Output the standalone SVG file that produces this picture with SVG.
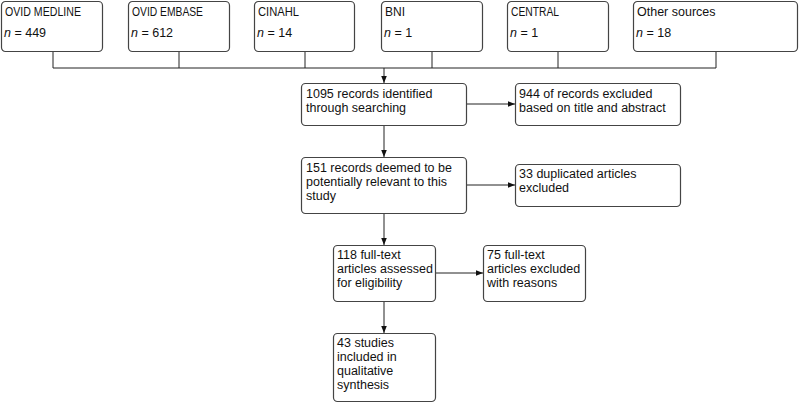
<svg xmlns="http://www.w3.org/2000/svg" width="800" height="403" viewBox="0 0 800 403">
<style>
.box{fill:#fff;stroke:#444;stroke-width:1.2}
.t{font-family:"Liberation Sans",Arial,sans-serif;font-size:12.5px;fill:#111}
.c{fill:none;stroke:#222;stroke-width:1}
</style>
<defs>
<marker id="ah" viewBox="0 0 10 10" refX="10" refY="5" markerWidth="7" markerHeight="7" orient="auto" markerUnits="userSpaceOnUse">
<path d="M0,1 L10,5 L0,9 z" fill="#111"/>
</marker>
</defs>
<rect width="800" height="403" fill="#fff"/>
<g id="connectors">
<path class="c" d="M53,52 V68 M179,52 V68 M305,52 V68 M432,52 V68 M558,52 V68 M716,52 V68 M53,68 H716"/>
<path class="c" d="M384,68 V83" marker-end="url(#ah)"/>
<path class="c" d="M466,104 H515" marker-end="url(#ah)"/>
<path class="c" d="M384,125 V157" marker-end="url(#ah)"/>
<path class="c" d="M466,185 H515" marker-end="url(#ah)"/>
<path class="c" d="M384,213 V245" marker-end="url(#ah)"/>
<path class="c" d="M435,273 H483" marker-end="url(#ah)"/>
<path class="c" d="M384,301 V333" marker-end="url(#ah)"/>
</g>
<g id="medline"><rect class="box" x="1.5" y="1.5" width="101" height="50" rx="4"/><text class="t" x="5" y="16" textLength="76" lengthAdjust="spacingAndGlyphs">OVID MEDLINE</text><text class="t" x="4" y="37"><tspan font-style="italic">n</tspan> = 449</text></g>
<g id="embase"><rect class="box" x="128.5" y="1.5" width="101" height="50" rx="4"/><text class="t" x="132" y="16" textLength="71" lengthAdjust="spacingAndGlyphs">OVID EMBASE</text><text class="t" x="131" y="37"><tspan font-style="italic">n</tspan> = 612</text></g>
<g id="cinahl"><rect class="box" x="254.5" y="1.5" width="100" height="50" rx="4"/><text class="t" x="258" y="16" textLength="41" lengthAdjust="spacingAndGlyphs">CINAHL</text><text class="t" x="257" y="37"><tspan font-style="italic">n</tspan> = 14</text></g>
<g id="bni"><rect class="box" x="381.5" y="1.5" width="101" height="50" rx="4"/><text class="t" x="385" y="16" textLength="20" lengthAdjust="spacingAndGlyphs">BNI</text><text class="t" x="384" y="37"><tspan font-style="italic">n</tspan> = 1</text></g>
<g id="central"><rect class="box" x="507.5" y="1.5" width="101" height="50" rx="4"/><text class="t" x="511" y="16" textLength="48" lengthAdjust="spacingAndGlyphs">CENTRAL</text><text class="t" x="510" y="37"><tspan font-style="italic">n</tspan> = 1</text></g>
<g id="other"><rect class="box" x="633.5" y="1.5" width="164" height="50" rx="4"/><text class="t" x="637" y="16">Other sources</text><text class="t" x="636" y="37"><tspan font-style="italic">n</tspan> = 18</text></g>
<g id="identified"><rect class="box" x="301.5" y="83.5" width="165" height="42" rx="4"/><text class="t" x="306" y="98">1095 records identified</text><text class="t" x="306" y="112">through searching</text></g>
<g id="excl944"><rect class="box" x="515.5" y="83.5" width="165" height="42" rx="4"/><text class="t" x="519" y="98">944 of records excluded</text><text class="t" x="519" y="112">based on title and abstract</text></g>
<g id="relevant"><rect class="box" x="301.5" y="157.5" width="165" height="56" rx="4"/><text class="t" x="306" y="172">151 records deemed to be</text><text class="t" x="306" y="186">potentially relevant to this</text><text class="t" x="306" y="200">study</text></g>
<g id="dup"><rect class="box" x="515.5" y="164.5" width="165" height="42" rx="4"/><text class="t" x="519" y="178">33 duplicated articles</text><text class="t" x="519" y="192">excluded</text></g>
<g id="fulltext"><rect class="box" x="333.5" y="245.5" width="102" height="56" rx="4"/><text class="t" x="337" y="259">118 full-text</text><text class="t" x="337" y="273">articles assessed</text><text class="t" x="337" y="287">for eligibility</text></g>
<g id="excl75"><rect class="box" x="483.5" y="245.5" width="102" height="56" rx="4"/><text class="t" x="487" y="259">75 full-text</text><text class="t" x="487" y="273">articles excluded</text><text class="t" x="487" y="287">with reasons</text></g>
<g id="included"><rect class="box" x="333.5" y="333.5" width="102" height="68" rx="4"/><text class="t" x="337" y="347">43 studies</text><text class="t" x="337" y="361">included in</text><text class="t" x="337" y="375">qualitative</text><text class="t" x="337" y="389">synthesis</text></g>
</svg>
